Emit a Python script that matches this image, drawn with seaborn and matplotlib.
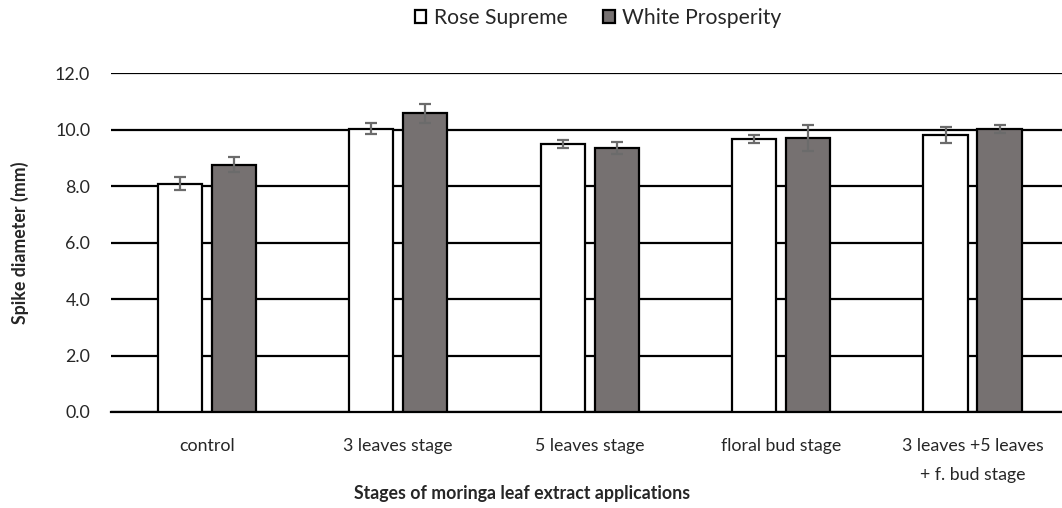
import matplotlib
matplotlib.use("Agg")
import matplotlib.pyplot as plt
import seaborn as sns
import pandas as pd
from matplotlib.patches import Patch

categories = ["control", "3 leaves stage", "5 leaves stage", "floral bud stage",
              "3 leaves +5 leaves\n+ f. bud stage"]
series = ["Rose Supreme", "White Prosperity"]
rose_supreme = [8.08, 10.03, 9.50, 9.67, 9.81]
white_prosperity = [8.76, 10.58, 9.35, 9.71, 10.03]
rose_err = [0.23, 0.20, 0.15, 0.14, 0.29]
white_err = [0.27, 0.33, 0.20, 0.47, 0.15]
yticks = [0, 2, 4, 6, 8, 10, 12]

sns.set_theme(style="white")
plt.rcParams["font.family"] = ["Lato", "DejaVu Sans"]

df = pd.DataFrame({
    "stage": categories * 2,
    "variety": [series[0]] * len(categories) + [series[1]] * len(categories),
    "value": rose_supreme + white_prosperity,
})

colors = {"Rose Supreme": "#ffffff", "White Prosperity": "#767171"}
FS = 12.8

fig = plt.figure(figsize=(10.62, 5.08), dpi=100)
ax = fig.add_axes([0.1045, 0.189, 0.9015, 0.667])

sns.barplot(data=df, x="stage", y="value", hue="variety", order=categories,
            hue_order=series, palette=colors, width=0.564, gap=0.18,
            errorbar=None, edgecolor="black", linewidth=1.6, ax=ax, legend=False,
            saturation=1, zorder=3)

errs = rose_err + white_err
for patch, e in zip(ax.patches[:len(errs)], errs):
    cx = patch.get_x() + patch.get_width() / 2
    top = patch.get_height()
    ax.errorbar(cx, top, yerr=e, color="#6b6b6b", capsize=4.5, elinewidth=1.6,
                capthick=1.6, zorder=4)

ax.set_ylim(0, 12)
ax.set_xlim(-0.5, 4.5)
ax.set_yticks(yticks)
ax.set_yticklabels([f"{v:.1f}" for v in yticks], fontsize=FS)
ax.tick_params(axis="x", labelsize=FS, pad=19, length=0)
for lbl in ax.get_xticklabels():
    lbl.set_linespacing(1.95)
ax.tick_params(axis="y", pad=15, length=0)
ax.yaxis.grid(True, color="black", linewidth=1.6)
ax.set_axisbelow(True)
for s in ["top", "right", "left"]:
    ax.spines[s].set_visible(False)
ax.spines["bottom"].set_color("black")
ax.spines["bottom"].set_linewidth(1.6)

ax.set_ylabel("Spike diameter (mm)", fontsize=FS, fontweight="bold")
ax.yaxis.set_label_coords(-(111 - 29) / 957, 0.5)
ax.set_xlabel("Stages of moringa leaf extract applications", fontsize=FS,
              fontweight="bold")
ax.xaxis.set_label_coords((522 - 111) / 957, -0.215)

handles = [Patch(facecolor=colors[s], edgecolor="black", linewidth=1.6, label=s)
           for s in series]
fig.legend(handles=handles, loc="center", bbox_to_anchor=(598 / 1062, 1 - 18 / 508),
           ncol=2, frameon=False, fontsize=15.2, handlelength=0.55, handleheight=0.55,
           handletextpad=0.35, columnspacing=1.7)

fig.savefig("out.png", dpi=100)
